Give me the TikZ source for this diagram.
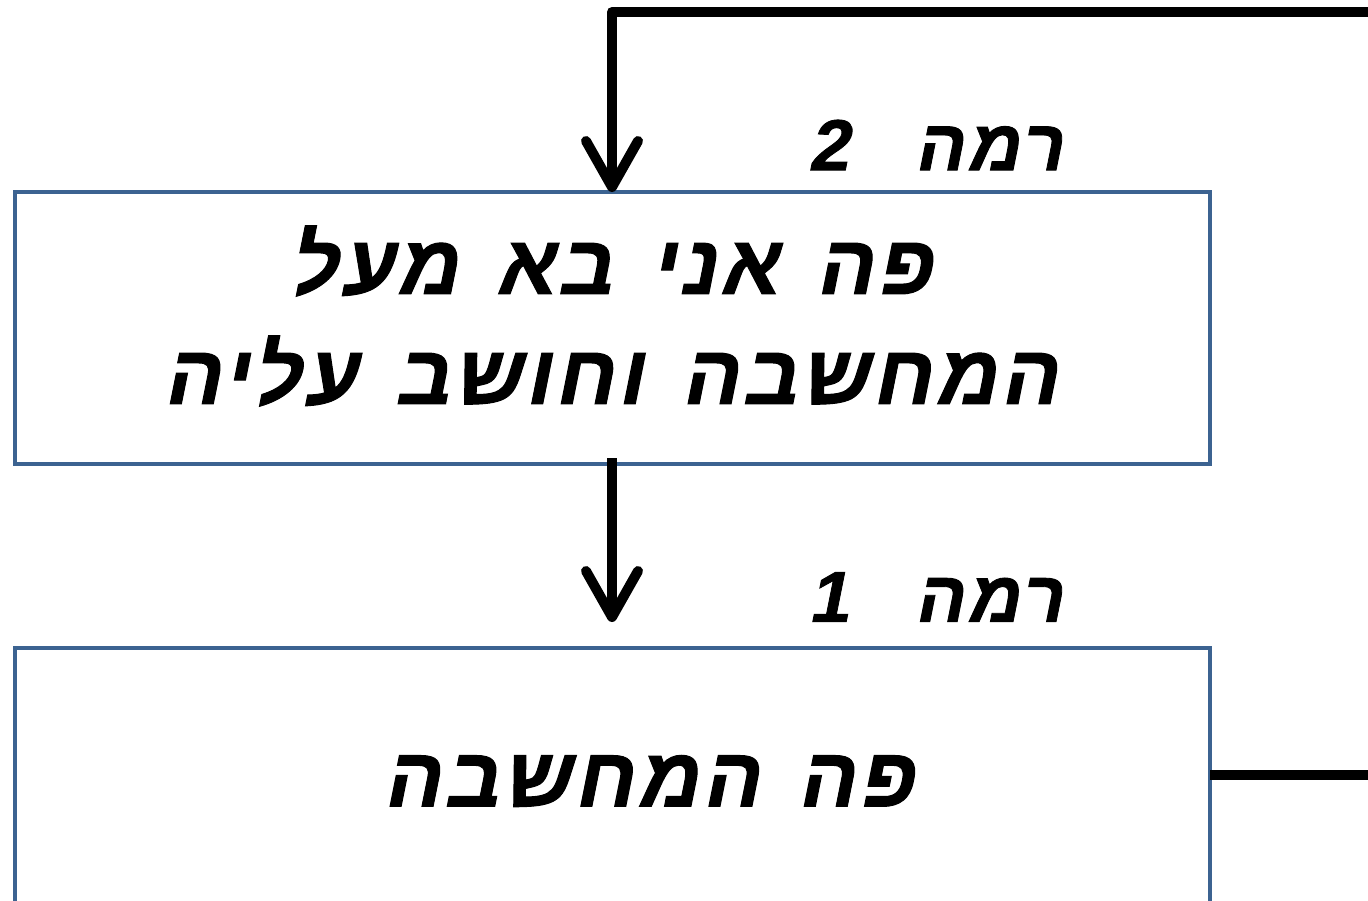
\documentclass[tikz,border=0pt]{standalone}
\usepackage{fontspec}
\TeXXeTstate=1
\newfontfamily\hebfont{Liberation Sans}[Script=Hebrew, BoldFeatures={FakeSlant=0.2, FakeBold=1.2, LetterSpace=5, WordSpace=1.4}]
\usetikzlibrary{arrows.meta}
\definecolor{boxblue}{HTML}{3C6391}
\begin{document}
\begin{tikzpicture}[x=0.5pt,y=-0.5pt,
  levelbox/.style={draw=boxblue, line width=1.6pt, fill=white},
  flow/.style={line width=5pt, line join=round},
  flowtip/.style={-{Straight Barb[length=23pt,width=26pt,round]}},
  bigtext/.style={font=\hebfont\bfseries\fontsize{42}{55}\selectfont, align=center},
  leveltext/.style={font=\hebfont\bfseries\fontsize{36}{40}\selectfont}]
\useasboundingbox (0,0) rectangle (1368,900);
\clip (0,0) rectangle (1368,900);
% two level boxes
\draw[levelbox] (15,192) rectangle (1210,464);
\draw[levelbox] (15,648) rectangle (1210,930);
\coordinate (topIn) at (612,192);
\coordinate (topOut) at (612,458);
\coordinate (lowIn) at (612,622);
\coordinate (lowOut) at (1210,775);
\coordinate (edgeLow) at (1368,775);
\coordinate (edgeTop) at (1368,12);
% texts
\node[bigtext] (upper) at (610,316) {\beginR פה אני בא מעל\endR\\\beginR המחשבה וחושב עליה\endR};
\node[bigtext] (lower) at (648,781) {\beginR פה המחשבה\endR};
\node[leveltext] (lvl2) at (935,145) {\beginR רמה\ \ 2\endR};
\node[leveltext] (lvl1) at (935,597) {\beginR רמה\ \ 1\endR};
% connectors
\draw[flow, flowtip] (edgeTop) -- (612,12) -- (topIn);
\draw[flow, flowtip] (topOut) -- (lowIn);
\draw[flow] (lowOut) -- (edgeLow);
\end{tikzpicture}
\end{document}
